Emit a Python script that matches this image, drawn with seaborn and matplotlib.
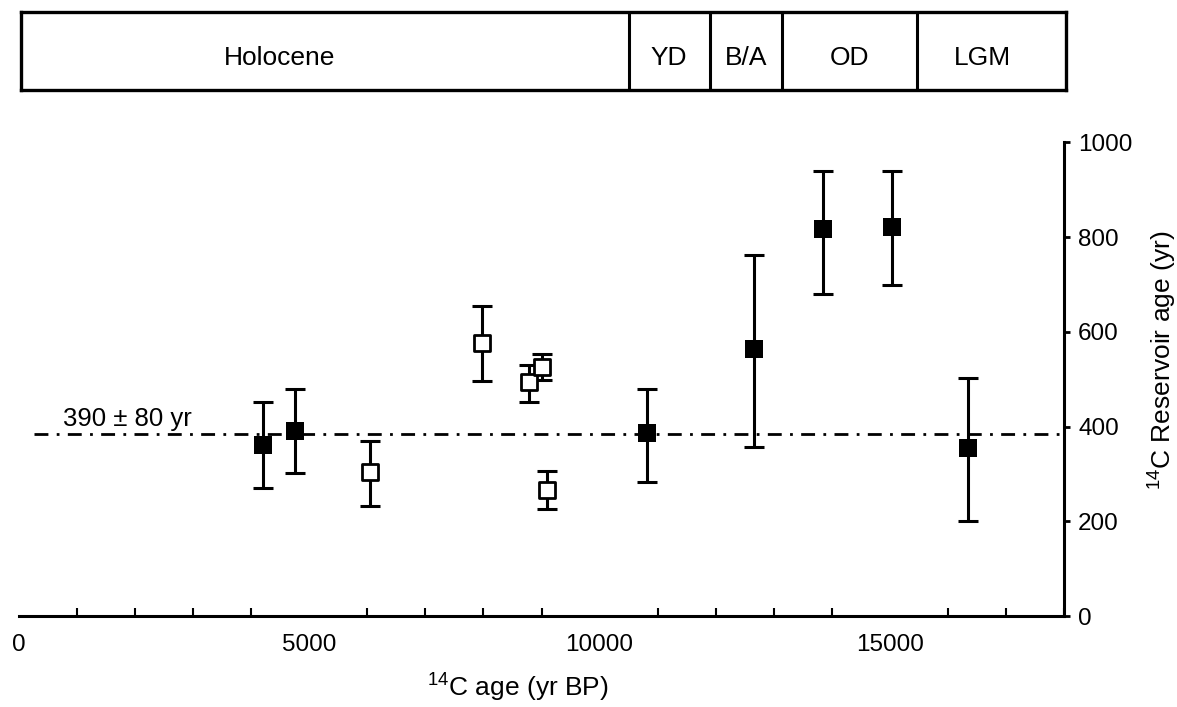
import numpy as np
import pandas as pd
import matplotlib
matplotlib.use("Agg")
import matplotlib.pyplot as plt
import seaborn as sns

# 14C age (yr BP), reservoir age (yr) and error bar ends
age = [4200, 4750, 6050, 7970, 8780, 9010, 9090, 10820, 12660, 13850, 15040, 16350]
res_age = [361, 390, 304, 576, 494, 525, 266, 386, 563, 816, 821, 354]
err_top = [451, 479, 369, 654, 530, 553, 306, 479, 762, 939, 939, 502]
err_bot = [270, 302, 232, 496, 451, 498, 226, 283, 357, 679, 698, 200]
filled = [True, True, False, False, False, False, False, True, True, True, True, True]

mean_res = 384
mean_label = "390 ± 80 yr"

# climate periods on top bar
period_names = ["Holocene", "YD", "B/A", "OD", "LGM"]
period_edges = [0, 10470, 11870, 13120, 15430, 18000]
period_label_x = [4460, 11170, 12500, 14270, 16560]

sns.set_style("white")
plt.rcParams["font.family"] = ["Liberation Sans", "DejaVu Sans"]
plt.rcParams["mathtext.fontset"] = "custom"
plt.rcParams["mathtext.rm"] = "Liberation Sans"
plt.rcParams["text.color"] = "black"
plt.rcParams["axes.labelcolor"] = "black"
plt.rcParams["xtick.color"] = "black"
plt.rcParams["ytick.color"] = "black"

df = pd.DataFrame({"age": age, "res": res_age, "top": err_top, "bot": err_bot,
                   "filled": filled})

fig = plt.figure(figsize=(11.77, 7.07), dpi=100)
ax = fig.add_axes([0.0161, 0.1287, 0.888, 0.670])
ax_top = fig.add_axes([0.0175, 0.873, 0.888, 0.110])

# error bars
ax.errorbar(df["age"], df["res"],
            yerr=[df["res"] - df["bot"], df["top"] - df["res"]],
            fmt="none", ecolor="black", elinewidth=2.2, capsize=7.5, capthick=2.2,
            zorder=2)

# reference line
ax.plot([260, 18000], [mean_res, mean_res], color="black", lw=2.0,
        linestyle=(0, (5, 3, 1, 3)), zorder=1)
ax.text(760, mean_res + 6, mean_label, fontsize=18.5, ha="left", va="bottom")

# markers
d_fill = df[df["filled"]]
d_open = df[~df["filled"]]
sns.scatterplot(data=d_fill, x="age", y="res", marker="s", s=170, color="black",
                edgecolor="black", linewidth=0, ax=ax, zorder=3)
sns.scatterplot(data=d_open, x="age", y="res", marker="s", s=120, color="white",
                edgecolor="black", linewidth=2.0, ax=ax, zorder=3)

ax.set_xlim(0, 18000)
ax.set_ylim(0, 1000)
for s in ["top", "left"]:
    ax.spines[s].set_visible(False)
for s in ["bottom", "right"]:
    ax.spines[s].set_linewidth(2.2)
    ax.spines[s].set_color("black")

ax.set_xticks([0, 5000, 10000, 15000])
ax.set_xticks(np.arange(0, 18001, 1000), minor=True)
ax.tick_params(axis="x", which="major", direction="inout", length=10, width=2,
               labelsize=17.5, pad=8)
ax.tick_params(axis="x", which="minor", direction="in", length=6, width=1.5,
               bottom=True)
ax.yaxis.tick_right()
ax.yaxis.set_label_position("right")
ax.set_yticks([0, 200, 400, 600, 800, 1000])
ax.tick_params(axis="y", which="major", direction="out", length=4, width=2,
               labelsize=17.5, pad=6)
ax.tick_params(axis="y", which="minor", right=False, left=False)

ax.set_xlabel("$^{14}$C age (yr BP)", fontsize=19)
ax.xaxis.set_label_coords(0.477, -0.115)
ax.set_ylabel("$^{14}$C Reservoir age (yr)", fontsize=19)
ax.yaxis.set_label_coords(1.077, 0.54)

# period bar
ax_top.set_xlim(0, 18000)
ax_top.set_ylim(0, 1)
ax_top.set_xticks([])
ax_top.set_yticks([])
for s in ax_top.spines.values():
    s.set_linewidth(2.4)
    s.set_color("black")
for e in period_edges[1:-1]:
    ax_top.plot([e, e], [0, 1], color="black", lw=2.2)
for name, xc in zip(period_names, period_label_x):
    ax_top.text(xc, 0.41, name, fontsize=19, ha="center", va="center")

fig.savefig("out.png", dpi=100)
